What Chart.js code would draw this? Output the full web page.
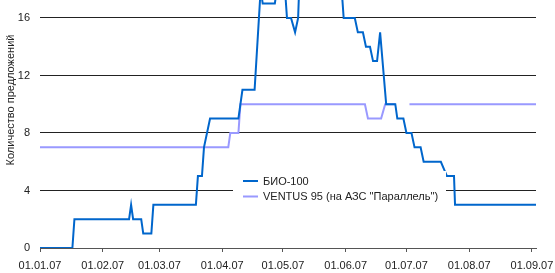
<!DOCTYPE html>
<html>
<head>
<meta charset="utf-8">
<script src="https://cdn.jsdelivr.net/npm/chart.js@4"></script>
<style>
  html, body { margin: 0; padding: 0; background: #fff; }
  #wrap { position: relative; width: 555px; height: 273px; }
</style>
</head>
<body>
<div id="wrap"><canvas id="c" width="555" height="273"></canvas></div>
<script>
// ---- Data (days since 01.01.07) ----
const seriesNames = ['БИО-100', 'VENTUS 95 (на АЗС "Параллель")'];
const bioDays =   [0, 16, 17, 44, 45, 46, 50, 51, 55, 56, 77, 78, 80, 81, 84, 98, 100, 106, 109, 110, 116, 117, 121, 122, 124, 126, 127.5, 128, 149, 150, 155.5, 157, 159.5, 161, 163, 164.5, 166.5, 168, 171, 175.5, 176.5, 179.5, 181, 183.5, 185, 188, 189.5, 198, 201, 204.5, 205, 245];
const bioValues = [0, 0, 2, 2, 3, 2, 2, 1, 1, 3, 3, 5, 5, 7, 9, 9, 11, 11, 18, 17, 17, 18, 18, 16, 16, 15, 16, 18, 18, 16, 16, 15, 15, 14, 14, 13, 13, 15, 10, 10, 9, 9, 8, 8, 7, 7, 6, 6, 5, 5, 3, 3];
const ventusDays =   [0, 93, 94, 98, 99, 160.5, 162, 168.5, 170.5, 175.5, 178, 182.5, 245];
const ventusValues = [7, 7, 8, 8, 10, 10, 9, 9, 10, 10, null, 10, 10];
const monthTicks =  [0, 31, 59, 90, 120, 151, 181, 212, 243];
const monthLabels = ['01.01.07', '01.02.07', '01.03.07', '01.04.07', '01.05.07', '01.06.07', '01.07.07', '01.08.07', '01.09.07'];
const yTicks = [0, 4, 8, 12, 16];
const yTitle = 'Количество предложений';

const FONT = '"Liberation Sans", Arial, sans-serif';
const COLORS = ['#0066cc', '#9999ff'];

const toXY = (xs, ys) => xs.map((x, i) => ({ x: x, y: ys[i] }));

const overlay = {
  id: 'overlay',
  afterDraw(chart) {
    const ctx = chart.ctx;
    ctx.save();
    ctx.fillStyle = '#ffffff';
    ctx.fillRect(233, 171, 213, 37);
    ctx.font = '11px ' + FONT;
    ctx.textBaseline = 'middle';
    ctx.textAlign = 'left';
    const rows = [181, 196.5];
    seriesNames.forEach((name, i) => {
      ctx.strokeStyle = COLORS[i];
      ctx.lineWidth = 2;
      ctx.beginPath();
      ctx.moveTo(243, rows[i]);
      ctx.lineTo(258, rows[i]);
      ctx.stroke();
      ctx.fillStyle = '#222';
      ctx.fillText(name, 263, rows[i] + 0.5);
    });
    ctx.translate(11, 100);
    ctx.rotate(-Math.PI / 2);
    ctx.textAlign = 'center';
    ctx.textBaseline = 'middle';
    ctx.fillStyle = '#222';
    ctx.fillText(yTitle, 0, 0);
    ctx.restore();
  }
};

new Chart(document.getElementById('c'), {
  type: 'line',
  data: {
    datasets: [
      { label: seriesNames[0], data: toXY(bioDays, bioValues), borderColor: COLORS[0], backgroundColor: COLORS[0], borderWidth: 2, pointRadius: 0, tension: 0, spanGaps: false },
      { label: seriesNames[1], data: toXY(ventusDays, ventusValues), borderColor: COLORS[1], backgroundColor: COLORS[1], borderWidth: 2, pointRadius: 0, tension: 0, spanGaps: false }
    ]
  },
  options: {
    responsive: false,
    animation: false,
    devicePixelRatio: 1,
    layout: { padding: { top: 0, right: 19, left: 0, bottom: 0 } },
    plugins: { legend: { display: false }, tooltip: { enabled: false } },
    scales: {
      x: {
        type: 'linear',
        min: 0,
        max: 245,
        afterBuildTicks: (scale) => { scale.ticks = monthTicks.map(v => ({ value: v })); },
        afterFit: (scale) => { scale.height = 25; scale.paddingLeft = 0; scale.paddingRight = 0; },
        ticks: {
          autoSkip: false,
          maxRotation: 0,
          padding: 7,
          color: '#222',
          font: { family: FONT, size: 11 },
          callback: (v) => { const i = monthTicks.indexOf(v); return i >= 0 ? monthLabels[i] : ''; }
        },
        grid: { drawOnChartArea: false, drawTicks: true, tickLength: 4, color: '#555' },
        border: { display: true, color: '#555', width: 1 }
      },
      y: {
        min: 0,
        max: 17.25,
        afterBuildTicks: (scale) => { scale.ticks = yTicks.map(v => ({ value: v })); },
        afterFit: (scale) => { scale.width = 40; scale.paddingTop = 0; scale.paddingBottom = 0; },
        ticks: {
          padding: 10,
          color: '#222',
          font: { family: FONT, size: 11 }
        },
        grid: { drawTicks: false, color: (c) => c.tick && c.tick.value === 0 ? 'rgba(0,0,0,0)' : '#222', lineWidth: 1 },
        border: { display: false }
      }
    }
  },
  plugins: [overlay]
});
</script>
</body>
</html>
